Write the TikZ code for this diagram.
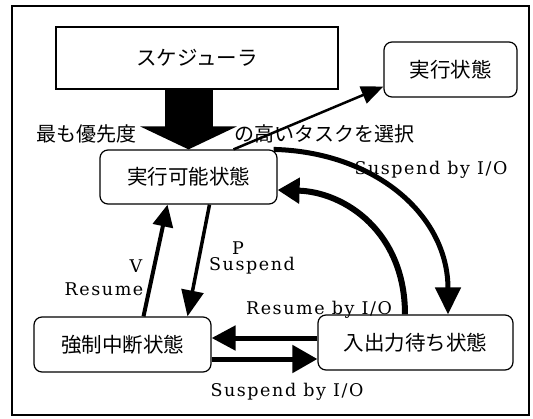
\documentclass[tikz,border=0pt]{standalone}
\usepackage{fontspec}
\usetikzlibrary{arrows.meta,calc}
\newfontfamily\jpfont{Noto Sans CJK JP}
\newfontfamily\latfont[LetterSpace=9]{DejaVu Serif}
\begin{document}
\begin{tikzpicture}[x=1pt,y=-1pt,
  stbox/.style={draw,line width=1.2pt,rounded corners=8pt,inner sep=0pt,font=\jpfont\fontsize{20.5}{22}\selectfont},
  jlabel/.style={inner sep=0pt,font=\jpfont\fontsize{20}{22}\selectfont},
  elabel/.style={inner sep=0pt,font=\latfont\fontsize{17.5}{19}\selectfont},
]
\useasboundingbox (0,0) rectangle (533,418);
\draw[line width=1.2pt] (12,6) rectangle (529,415);

\node[draw,line width=1.2pt,inner sep=0pt,minimum width=282pt,minimum height=62pt,font=\jpfont\fontsize{20.5}{22}\selectfont] (sched) at (197,58) {スケジューラ};
\node[stbox,minimum width=133pt,minimum height=55pt] (run) at (450.5,69.5) {実行状態};
\node[stbox,minimum width=177pt,minimum height=54pt] (ready) at (188.5,177) {実行可能状態};
\node[stbox,minimum width=177pt,minimum height=55pt] (susp) at (122.5,344.5) {強制中断状態};
\node[stbox,minimum width=195pt,minimum height=55pt] (wait) at (415.5,342.5) {入出力待ち状態};

\node[jlabel] (l1) at (86,134) {最も優先度};
\node[jlabel] (l2) at (324.5,134) {の高いタスクを選択};

% big scheduler arrow
\draw[line width=48pt,-{Triangle[length=23pt,width=96pt]}] (sched.south -| ready.north) -- (ready.north);

% ready -> run
\draw[line width=2.5pt,-{Triangle[length=22pt,width=18pt]}] ([xshift=45pt]ready.north) -- ([yshift=-17pt]run.west);

% V Resume
\draw[line width=4pt,-{Triangle[length=22pt,width=20pt]}] ([xshift=21pt]susp.north) -- ([xshift=-21pt]ready.south);
% P Suspend
\draw[line width=3.5pt,-{Triangle[length=26pt,width=22pt]}] ([xshift=21pt]ready.south) -- ([xshift=65pt]susp.north);

% Resume by I/O
\draw[line width=5pt,-{Triangle[length=24pt,width=24pt]}] ([yshift=4.5pt]wait.west) -- ([yshift=6.5pt]susp.east);
% Suspend by I/O (bottom)
\draw[line width=5pt,-{Triangle[length=25pt,width=27pt]}] ([yshift=-14.5pt]susp.east) -- ([yshift=-16.5pt]wait.west);

% outer arc ready -> wait
\draw[line width=5pt,-{Triangle[length=27pt,width=25pt]}] ([xshift=-4pt]ready.north east) .. controls (375,152) and (448,215) .. ([xshift=32.5pt]wait.north);
% inner arc wait -> ready
\draw[line width=6pt,-{Triangle[length=22pt,width=25pt]}] ([xshift=-10.5pt]wait.north) .. controls (405,232) and (345,192) .. ([yshift=-13pt]ready.east);

\node[elabel] (v) at (136,266) {V};
\node[elabel] (res) at (104,289) {Resume};
\node[elabel] (p) at (238,248) {P};
\node[elabel] (sus) at (252,266) {Suspend};
\node[elabel] (rio) at (319,310) {Resume by I/O};
\node[elabel] (sio1) at (431,170) {Suspend by I/O};
\node[elabel] (sio2) at (287,392) {Suspend by I/O};
\end{tikzpicture}
\end{document}
